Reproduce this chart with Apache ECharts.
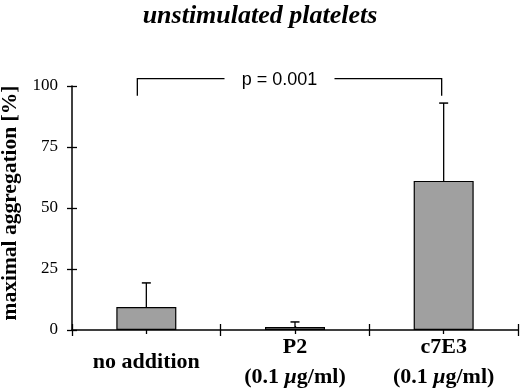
<!DOCTYPE html>
<html>
<head>
<meta charset="utf-8">
<script src="https://cdn.jsdelivr.net/npm/echarts@6/dist/echarts.min.js"></script>
<style>
  html, body { margin: 0; padding: 0; background: #fff; }
  #main { width: 520px; height: 388px; }
</style>
</head>
<body>
<div id="main"></div>
<script>
// data
var categories = ['no addition', 'P2', 'c7E3'];
var subLabels = ['', '(0.1 ', '(0.1 '];
var means = [9.4, 1.2, 61.1];
var errors = [9.9, 2.1, 31.9];
var yTicks = [0, 25, 50, 75, 100];
// significance bracket: [from category, to category, top value, foot value, label]
var bracket = [0, 2, 103, 96, 'p = 0.001'];

var serif = '"Liberation Serif", "DejaVu Serif", serif';
var sans = '"Liberation Sans", Arial, sans-serif';

var myChart = echarts.init(document.getElementById('main'));

function tickAxis(inside, len, align) {
    return {
        type: 'category',
        data: categories,
        position: 'bottom',
        axisLine: { show: false },
        axisLabel: { show: false },
        axisTick: { show: true, inside: inside, length: len, alignWithLabel: align,
            lineStyle: { color: '#000', width: 1.3 } }
    };
}

var option = {
    backgroundColor: '#fff',
    animation: false,
    title: {
        text: 'unstimulated platelets',
        left: 'center',
        top: -2,
        textStyle: { fontFamily: serif, fontStyle: 'italic', fontWeight: 'bold', fontSize: 26, color: '#000' }
    },
    grid: { left: 72, right: 2, top: 86, bottom: 58, containLabel: false, outerBoundsMode: 'none' },
    xAxis: [
        {
            type: 'category',
            data: categories,
            axisLine: { lineStyle: { color: '#000', width: 1.5 } },
            axisTick: { show: true, length: 6, lineStyle: { color: '#000', width: 1.3 } },
            axisLabel: {
                margin: 2,
                interval: 0,
                hideOverlap: false,
                formatter: function (v, i) {
                    if (!subLabels[i]) return '{c|' + v + '}';
                    return '{b|' + v + '}\n{b|' + subLabels[i] + '}{m|μ}{b|g/ml)}';
                },
                rich: {
                    b: { fontFamily: serif, fontWeight: 'bold', fontSize: 22, lineHeight: 30, color: '#000' },
                    m: { fontFamily: serif, fontWeight: 'bold', fontStyle: 'italic', fontSize: 22, lineHeight: 30, color: '#000' },
                    c: { fontFamily: serif, fontWeight: 'bold', fontSize: 22, lineHeight: 60, color: '#000' }
                }
            }
        },
        tickAxis(true, 6, false),
        tickAxis(true, 4, true),
        tickAxis(false, 4, true)
    ],
    yAxis: [
        {
            type: 'value',
            min: 0, max: 100, interval: 25,
            name: 'maximal aggregation [%]',
            nameLocation: 'middle',
            nameGap: 51,
            nameRotate: 90,
            nameTextStyle: { fontFamily: serif, fontWeight: 'bold', fontSize: 21.5, color: '#000', padding: [0, 0, 0, 10] },
            splitLine: { show: false },
            axisLine: { show: true, lineStyle: { color: '#000', width: 1.5 } },
            axisTick: { show: true, length: 5, lineStyle: { color: '#000', width: 1.3 } },
            axisLabel: {
                margin: 14,
                fontFamily: serif, fontSize: 17, color: '#000',
                formatter: function (v) { return yTicks.indexOf(v) >= 0 ? v : ''; }
            }
        },
        {
            type: 'value',
            position: 'left',
            min: 0, max: 100, interval: 25,
            splitLine: { show: false },
            axisLine: { show: false },
            axisLabel: { show: false },
            axisTick: { show: true, inside: true, length: 5, lineStyle: { color: '#000', width: 1.3 } }
        }
    ],
    series: [
        {
            name: 'mean',
            type: 'bar',
            data: means,
            barWidth: 60,
            itemStyle: { color: '#a0a0a0', borderColor: '#000', borderWidth: 1.2 },
            z: 2
        },
        {
            name: 'error',
            type: 'custom',
            data: means.map(function (m, i) { return [i, m, m + errors[i]]; }),
            renderItem: function (params, api) {
                var lo = api.coord([api.value(0), api.value(1)]);
                var hi = api.coord([api.value(0), api.value(2)]);
                var cap = 4.5;
                return {
                    type: 'group',
                    children: [
                        { type: 'line', shape: { x1: lo[0], y1: lo[1], x2: hi[0], y2: hi[1] },
                          style: { stroke: '#000', lineWidth: 1.3 } },
                        { type: 'line', shape: { x1: hi[0] - cap, y1: hi[1], x2: hi[0] + cap, y2: hi[1] },
                          style: { stroke: '#000', lineWidth: 1.5 } }
                    ]
                };
            },
            z: 3
        },
        {
            name: 'bracket',
            type: 'custom',
            clip: false,
            data: [bracket.slice(0, 4)],
            renderItem: function (params, api) {
                var a = api.coord([api.value(0), api.value(2)]);
                var b = api.coord([api.value(1), api.value(2)]);
                var foot = api.coord([api.value(0), api.value(3)])[1];
                var x1 = a[0] - 9, x2 = b[0] - 2, y = a[1];
                var mid = (x1 + x2) / 2 - 10;
                var gap = 55;
                return {
                    type: 'group',
                    children: [
                        { type: 'polyline', shape: { points: [[x1, foot], [x1, y], [mid - gap, y]] },
                          style: { stroke: '#000', lineWidth: 1.3, fill: null } },
                        { type: 'polyline', shape: { points: [[mid + gap, y], [x2, y], [x2, foot]] },
                          style: { stroke: '#000', lineWidth: 1.3, fill: null } },
                        { type: 'text', x: mid, y: y + 1,
                          style: { text: bracket[4], fontFamily: sans, fontSize: 18, fill: '#000',
                                   align: 'center', verticalAlign: 'middle' } }
                    ]
                };
            },
            z: 3
        }
    ]
};

myChart.setOption(option, true);
</script>
</body>
</html>
